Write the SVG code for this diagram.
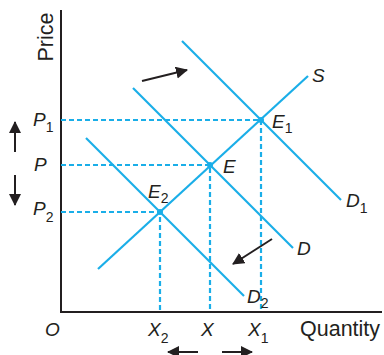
<svg xmlns="http://www.w3.org/2000/svg" width="384" height="355" viewBox="0 0 384 355">
<defs>
<marker id="ah" markerUnits="userSpaceOnUse" markerWidth="13" markerHeight="13" refX="11" refY="6" orient="auto">
<path d="M0,0 L12,6 L0,12 z" fill="#231f20"/>
</marker>
<style>
.ax{stroke:#231f20;stroke-width:2;fill:none}
.cv{stroke:#1aaee8;stroke-width:2.2;fill:none}
.dl{stroke:#1aaee8;stroke-width:2.2;stroke-dasharray:5,3;fill:none}
.ar{stroke:#231f20;stroke-width:2;fill:none;marker-end:url(#ah)}
.t{font-family:"Liberation Sans",Arial,sans-serif;fill:#231f20}
.i{font-family:"Liberation Sans",Arial,sans-serif;font-style:italic;font-size:19px;fill:#231f20}
.s{font-size:14px;font-style:normal}
.pt{fill:#1aaee8}
</style>
</defs>
<g id="axes">
<path class="ax" d="M61,10 V312 H382"/>
<text class="t" font-size="21.5" transform="translate(53,37) rotate(-90)" text-anchor="middle">Price</text>
<text class="t" font-size="21.5" x="300" y="336">Quantity</text>
<text class="i" x="45" y="336">O</text>
</g>
<g id="connectors">
<path class="dl" d="M61,120 H261 V312"/>
<path class="dl" d="M61,165 H210 V312"/>
<path class="dl" d="M61,212 H160 V312"/>
<line class="ar" x1="142" y1="81" x2="187" y2="70"/>
<line class="ar" x1="272" y1="239" x2="233" y2="264"/>
<line class="ar" x1="15" y1="152" x2="15" y2="122"/>
<line class="ar" x1="15" y1="175" x2="15" y2="205"/>
<line class="ar" x1="198" y1="352" x2="168" y2="352"/>
<line class="ar" x1="222" y1="352" x2="252" y2="352"/>
</g>
<g id="S">
<line class="cv" x1="98" y1="269" x2="308" y2="76"/>
<text class="i" x="312" y="82">S</text>
</g>
<g id="D1">
<line class="cv" x1="182" y1="41" x2="341" y2="200"/>
<text class="i" x="346" y="207">D<tspan class="s" dy="6">1</tspan></text>
</g>
<g id="D">
<line class="cv" x1="133" y1="88" x2="293" y2="248"/>
<text class="i" x="297" y="255">D</text>
</g>
<g id="D2">
<line class="cv" x1="86" y1="138" x2="244" y2="296"/>
<text class="i" x="247" y="303">D<tspan class="s" dy="5">2</tspan></text>
</g>
<g id="E1">
<circle class="pt" cx="261" cy="120" r="3"/>
<text class="i" x="272" y="128">E<tspan class="s" dy="5">1</tspan></text>
</g>
<g id="E">
<circle class="pt" cx="210" cy="165" r="3"/>
<text class="i" x="223" y="173">E</text>
</g>
<g id="E2">
<circle class="pt" cx="160" cy="212" r="3"/>
<text class="i" x="148" y="198">E<tspan class="s" dy="5">2</tspan></text>
</g>
<g id="labels">
<text class="i" x="33" y="126">P<tspan class="s" dy="6">1</tspan></text>
<text class="i" x="34" y="171">P</text>
<text class="i" x="33" y="215">P<tspan class="s" dy="7">2</tspan></text>
<text class="i" x="148" y="336">X<tspan class="s" dy="7">2</tspan></text>
<text class="i" x="201" y="336">X</text>
<text class="i" x="248" y="336">X<tspan class="s" dy="7">1</tspan></text>
</g>
</svg>
